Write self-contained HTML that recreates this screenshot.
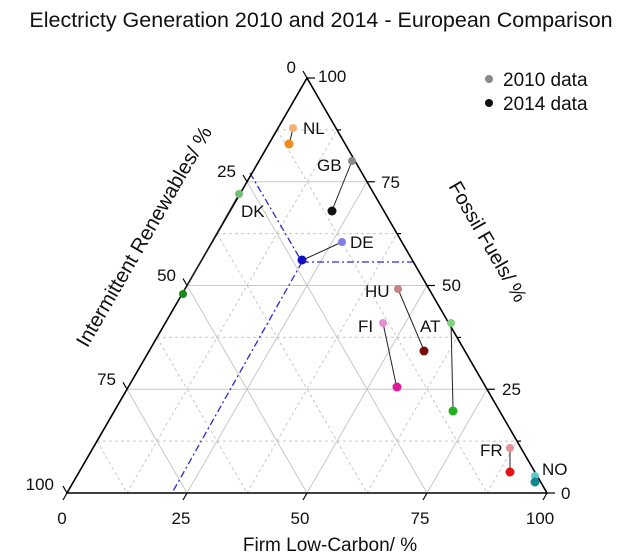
<!DOCTYPE html>
<html><head><meta charset="utf-8"><style>
body{margin:0;background:#fff}
svg{display:block;font-family:"Liberation Sans",Arial,sans-serif}
</style></head><body>
<svg width="630" height="558" viewBox="0 0 630 558" xmlns="http://www.w3.org/2000/svg">
<text x="321" y="27" font-size="21.5" text-anchor="middle" fill="#111">Electricty Generation 2010 and 2014 - European Comparison</text>
<g stroke="#c8c8c8" stroke-width="1" fill="none">
<g stroke-dasharray="3,3">
<line x1="97" y1="441.1" x2="517" y2="441.1"/><line x1="157" y1="337.4" x2="457" y2="337.4"/>
<line x1="217" y1="233.6" x2="397" y2="233.6"/><line x1="277" y1="129.9" x2="337" y2="129.9"/>
<line x1="127" y1="493" x2="337" y2="129.9"/><line x1="247" y1="493" x2="397" y2="233.6"/>
<line x1="367" y1="493" x2="457" y2="337.4"/><line x1="487" y1="493" x2="517" y2="441.1"/>
<line x1="277" y1="129.9" x2="487" y2="493"/><line x1="217" y1="233.6" x2="367" y2="493"/>
<line x1="157" y1="337.4" x2="247" y2="493"/><line x1="97" y1="441.1" x2="127" y2="493"/>
</g>
<line x1="127" y1="389.25" x2="487" y2="389.25"/><line x1="187" y1="285.5" x2="427" y2="285.5"/><line x1="247" y1="181.75" x2="367" y2="181.75"/>
<line x1="187" y1="493" x2="367" y2="181.75"/><line x1="307" y1="493" x2="427" y2="285.5"/><line x1="427" y1="493" x2="487" y2="389.25"/>
<line x1="247" y1="181.75" x2="427" y2="493"/><line x1="187" y1="285.5" x2="307" y2="493"/><line x1="127" y1="389.25" x2="187" y2="493"/>
</g>
<g stroke="#2a2ad0" stroke-width="1.3" stroke-dasharray="7,3,2,3" fill="none">
<line x1="250" y1="173" x2="302" y2="262"/><line x1="302" y1="262" x2="415" y2="262"/><line x1="302" y1="262" x2="172" y2="493"/>
</g>
<polygon points="67,493 547,493 307,78" fill="none" stroke="#000" stroke-width="1.6"/>
<g stroke="#000" stroke-width="1.2">
<line x1="307" y1="78" x2="315" y2="78"/><line x1="367" y1="181.75" x2="375" y2="181.75"/><line x1="427" y1="285.5" x2="435" y2="285.5"/><line x1="487" y1="389.25" x2="495" y2="389.25"/><line x1="547" y1="493" x2="555" y2="493"/>
<line x1="337" y1="129.9" x2="341" y2="129.9"/><line x1="397" y1="233.6" x2="401" y2="233.6"/><line x1="457" y1="337.4" x2="461" y2="337.4"/><line x1="517" y1="441.1" x2="521" y2="441.1"/>
<line x1="307" y1="78" x2="303" y2="71"/><line x1="247" y1="181.75" x2="243" y2="175"/><line x1="187" y1="285.5" x2="183" y2="278.5"/><line x1="127" y1="389.25" x2="123" y2="382.3"/><line x1="67" y1="493" x2="63" y2="486"/>
<line x1="67" y1="493" x2="63" y2="500"/><line x1="187" y1="493" x2="183" y2="500"/><line x1="307" y1="493" x2="303" y2="500"/><line x1="427" y1="493" x2="423" y2="500"/><line x1="547" y1="493" x2="543" y2="500"/>
</g>
<g font-size="17" fill="#111">
<text x="318" y="82">100</text><text x="381" y="188">75</text><text x="442" y="291">50</text><text x="502" y="395">25</text><text x="561" y="499">0</text>
<text x="296" y="73" text-anchor="end">0</text><text x="236" y="177" text-anchor="end">25</text><text x="176" y="281" text-anchor="end">50</text><text x="116" y="385" text-anchor="end">75</text><text x="54" y="490" text-anchor="end">100</text>
<text x="62" y="524" text-anchor="middle">0</text><text x="181" y="524" text-anchor="middle">25</text><text x="300" y="524" text-anchor="middle">50</text><text x="420" y="524" text-anchor="middle">75</text><text x="540" y="524" text-anchor="middle">100</text>
</g>
<text x="330" y="551" font-size="19" text-anchor="middle" fill="#111">Firm Low-Carbon/ %</text>
<text transform="translate(150,240) rotate(-60)" font-size="20.5" text-anchor="middle" fill="#111">Intermittent Renewables/ %</text>
<text transform="translate(482,245) rotate(60)" font-size="20" text-anchor="middle" fill="#111">Fossil Fuels/ %</text>
<g stroke="#222" stroke-width="1">
<line x1="293" y1="128" x2="290" y2="141"/><line x1="352" y1="161" x2="333" y2="208"/><line x1="342" y1="242" x2="305" y2="259"/>
<line x1="239" y1="194" x2="184" y2="291"/><line x1="398" y1="289" x2="423" y2="348"/><line x1="383" y1="323" x2="396" y2="384"/>
<line x1="451" y1="323" x2="453" y2="408"/><line x1="510" y1="448" x2="510" y2="469"/><line x1="535" y1="475" x2="535" y2="480"/>
</g>
<g>
<circle cx="293" cy="128" r="4" fill="#f5b070"/><circle cx="289" cy="144" r="4.5" fill="#f08c1c"/>
<circle cx="352" cy="161" r="4" fill="#888"/><circle cx="332" cy="211" r="4.5" fill="#111"/>
<circle cx="342" cy="242" r="4" fill="#8080e8"/><circle cx="302" cy="260" r="4.5" fill="#1010c0"/>
<circle cx="239" cy="194" r="4" fill="#70c070"/><circle cx="183" cy="294" r="4" fill="#1a8a1a"/>
<circle cx="398" cy="289" r="4" fill="#c88080"/><circle cx="424" cy="351" r="4.5" fill="#7a0a0a"/>
<circle cx="383" cy="323" r="4" fill="#e090d0"/><circle cx="397" cy="387" r="4.5" fill="#e0189a"/>
<circle cx="451" cy="323" r="4" fill="#80d080"/><circle cx="453" cy="411" r="4.5" fill="#20b020"/>
<circle cx="510" cy="448" r="4" fill="#e89098"/><circle cx="510" cy="472" r="4.5" fill="#e81010"/>
<circle cx="535" cy="476" r="4" fill="#60c8c8"/><circle cx="535" cy="482" r="4.5" fill="#108890"/>
</g>
<g font-size="17" fill="#111">
<text x="303" y="134">NL</text><text x="317" y="171">GB</text><text x="350" y="248">DE</text><text x="241" y="217">DK</text>
<text x="365" y="297">HU</text><text x="358" y="332">FI</text><text x="420" y="332">AT</text><text x="480" y="456">FR</text><text x="542" y="475">NO</text>
</g>
<circle cx="489" cy="79" r="4" fill="#888"/><text x="503" y="86" font-size="19" fill="#111">2010 data</text>
<circle cx="489" cy="103" r="4" fill="#111"/><text x="503" y="110" font-size="19" fill="#111">2014 data</text>
</svg>
</body></html>
